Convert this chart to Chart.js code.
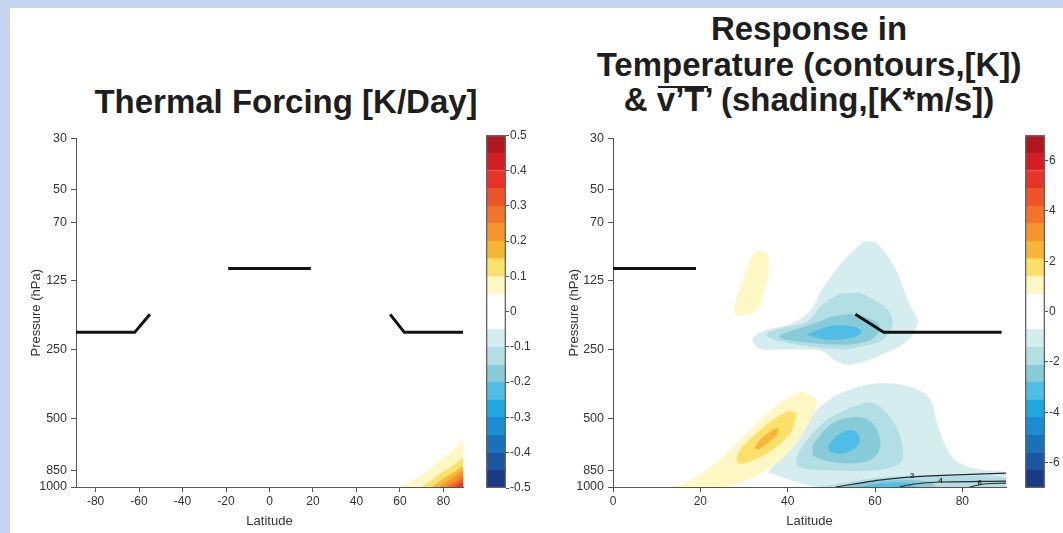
<!DOCTYPE html>
<html>
<head>
<meta charset="utf-8">
<script src="https://cdn.jsdelivr.net/npm/chart.js"></script>
<style>
  html, body { margin: 0; padding: 0; }
  body { width: 1063px; height: 533px; background: #c5d5ef; position: relative; overflow: hidden;
         font-family: "Liberation Sans", Arial, sans-serif; }
  #sheet { position: absolute; left: 10px; top: 8px; right: 0; bottom: 0; background: #fff; }
  .ttl { position: absolute; font-weight: bold; font-size: 33px; line-height: 35.5px; color: #1e1e1e;
         text-align: center; white-space: nowrap; }
  .bar { position: relative; }
  .bar::before { content: ""; position: absolute; left: 1px; right: 4px; top: 5px; border-top: 2px solid #1e1e1e; }
  canvas { position: absolute; }
</style>
</head>
<body>
<div id="sheet"></div>
<div class="ttl" style="left:86px; width:400px; top:84px;">Thermal Forcing [K/Day]</div>
<div class="ttl" style="left:559px; width:500px; top:11px;">Response in<br>Temperature (contours,[K])<br>&amp; <span class="bar">v’T’</span> (shading,[K*m/s])</div>
<canvas id="forcing" width="460" height="406" style="left:20px; top:127px;"></canvas>
<canvas id="forcingBar" width="60" height="370" style="left:480px; top:127px;"></canvas>
<canvas id="response" width="470" height="406" style="left:555px; top:127px;"></canvas>
<canvas id="responseBar" width="44" height="370" style="left:1019px; top:127px;"></canvas>
<script>
// colour bands, bottom (most negative) to top (most positive)
const bandColors = [
  "#1b3a84", "#1c56a1", "#1b70ba", "#1a8dd0", "#1fa8e0",
  "#50bde6", "#88cbd8", "#b3dee3", "#d6edf0", "#ffffff",
  "#ffffff", "#fff7c4", "#fde06a", "#f9b535", "#f6952b",
  "#f2742a", "#ee542a", "#e8332a", "#d21d25", "#b0161f"
];

const pressureTicks = [30, 50, 70, 125, 250, 500, 850, 1000];
const forcingLatTicks = [-80, -60, -40, -20, 0, 20, 40, 60, 80];
const responseLatTicks = [0, 20, 40, 60, 80];
const forcingBarTicks = [-0.5, -0.4, -0.3, -0.2, -0.1, 0, 0.1, 0.2, 0.3, 0.4, 0.5];
const responseBarTicks = [-6, -4, -2, 0, 2, 4, 6];
const forcingStep = 0.05;
const responseStep = 0.7;

// thermal forcing, [lat, hPa] outlines of each filled level
const forcing005 = [[60, 1000], [65, 950], [70, 885], [75, 815], [80, 745], [85, 680], [89, 630], [89, 1000]];
const forcing010 = [[70, 1000], [75, 930], [80, 860], [85, 800], [89, 755], [89, 1000]];
const forcing015 = [[75, 1000], [80, 925], [85, 865], [89, 825], [89, 1000]];
const forcing020 = [[78.5, 1000], [83, 935], [89, 860], [89, 1000]];
const forcing025 = [[81.5, 1000], [86, 940], [89, 900], [89, 1000]];
const forcing030 = [[84, 1000], [87, 955], [89, 930], [89, 1000]];
const forcing035 = [[86, 1000], [88, 975], [89, 960], [89, 1000]];

// v'T' response, upper level
const upperWarm07 = [[32.9, 93], [35.2, 96], [35.5, 115], [34.5, 141], [32.9, 168], [30.2, 177], [27.9, 173], [28.4, 148], [30.2, 118], [31.8, 98]];
const upperCool07 = [[57.2, 85], [60.3, 86], [64.5, 110], [67.9, 160], [69.7, 190], [67.2, 231], [61.7, 263], [54.9, 291], [51.2, 282], [48.0, 255], [40.5, 250], [33.6, 248], [32.0, 227], [34.3, 209], [40.5, 195], [45.1, 171], [48.0, 136], [52.6, 104], [55.8, 90]];
const upperCool14 = [[56.5, 141], [62.6, 166], [64.0, 195], [61.7, 227], [56.5, 243], [51.9, 250], [38.2, 231], [35.2, 216], [38.2, 203], [44.4, 190], [48.0, 160], [51.9, 143]];
const upperCool21 = [[54.2, 175], [60.3, 190], [60.9, 209], [58.1, 231], [51.2, 238], [39.8, 227], [38.2, 220], [40.5, 209], [47.3, 190], [50.3, 180]];
const upperCool28 = [[44.4, 216], [49.6, 199], [54.9, 199], [56.9, 209], [54.9, 222], [49.6, 227], [45.7, 220]];

// v'T' response, lower level
const lowerWarm07 = [[42.8, 381], [46.6, 420], [42.8, 608], [38.2, 764], [32.0, 905], [27.5, 980], [26, 1000], [13.8, 1000], [15.4, 980], [21.5, 844], [27.5, 672], [33.6, 513], [38.9, 420]];
const lowerWarm14 = [[42.1, 474], [40.5, 584], [35.2, 713], [29.8, 787], [28.4, 780], [29.1, 692], [33.6, 567], [38.2, 488], [40.5, 464]];
const lowerWarm21 = [[32.5, 678], [33.6, 626], [36.4, 567], [37.7, 556], [37.5, 590], [35.5, 639], [33.2, 685]];
const lowerCool07 = [[35.5, 861], [38.9, 727], [43.4, 550], [47.3, 451], [51.9, 392], [59.4, 355], [67.2, 362], [72.4, 408], [74.0, 513], [76.3, 672], [79.3, 787], [85.0, 844], [90, 870], [90, 1000], [47.3, 1000], [40.5, 933]];
const lowerCool14 = [[54.2, 451], [59.4, 429], [64.0, 513], [66.3, 672], [65.6, 787], [59.4, 844], [50.3, 844], [42.8, 820], [42.1, 742], [45.7, 584], [49.6, 498]];
const lowerCool21 = [[45.7, 658], [49.6, 539], [54.2, 498], [58.7, 513], [60.9, 596], [60.9, 692], [58.7, 764], [54.2, 787], [48.5, 764], [45.7, 727]];
const lowerCool28 = [[49.2, 658], [51.4, 596], [54.2, 567], [56.0, 584], [56.5, 639], [54.6, 692], [51.9, 713], [49.6, 699]];
const surfaceCool14 = [[47.3, 1000], [54.2, 951], [60.9, 914], [67.9, 896], [77.0, 896], [90, 914], [90, 1000]];
const surfaceCool21 = [[51.9, 1000], [58.7, 951], [65.6, 933], [72.4, 951], [74, 1000]];
const surfaceCool28 = [[56.5, 1000], [60.9, 970], [67.2, 961], [69.0, 1000]];

// temperature response contours near the surface
const tempContour2 = [[51, 1000], [56.5, 961], [61, 933], [67.9, 905], [77, 887], [90, 870]];
const tempContour4 = [[65.6, 1000], [69, 970], [74.8, 951], [90, 942]];
const tempContour6 = [[81.6, 1000], [85, 970], [90, 961]];
const tempLabels = ["2", "4", "6"];
const tempLabelAt = [[68.5, 903], [75, 950], [84, 972]];

// thick black reference lines
const forcingMarks = [
  [[-89, 211], [-62, 211], [-55, 176]],
  [[-19, 111], [19, 111]],
  [[55.5, 176], [62, 211], [89, 211]]
];
const responseMarks = [
  [[0, 111], [19, 111]],
  [[55.5, 176], [62, 211], [89, 211]]
];

const forcingLayers = [
  [0.05, forcing005], [0.1, forcing010], [0.15, forcing015], [0.2, forcing020],
  [0.25, forcing025], [0.3, forcing030], [0.35, forcing035]
];
const responseLayers = [
  [0.7, upperWarm07], [-0.7, upperCool07], [-1.4, upperCool14], [-2.1, upperCool21], [-2.8, upperCool28],
  [0.7, lowerWarm07], [1.4, lowerWarm14], [2.1, lowerWarm21],
  [-0.7, lowerCool07], [-1.4, lowerCool14], [-2.1, lowerCool21], [-2.8, lowerCool28],
  [-1.4, surfaceCool14], [-2.1, surfaceCool21], [-2.8, surfaceCool28]
];

const FONT = '"Liberation Sans", Arial, sans-serif';
const INK = "#333";
const AXIS = "#555";

function bandColor(level, step) {
  var k = Math.round(level / step);
  return bandColors[k > 0 ? 10 + k : 9 + k];
}

function pts(list) {
  return list.map(function (p) { return { x: p[0], y: p[1] }; });
}

function shadeSets(layers, step) {
  return layers.map(function (ly) {
    var c = bandColor(ly[0], step);
    return {
      data: pts(ly[1]),
      fill: "shape",
      tension: 0.35,
      backgroundColor: c,
      borderColor: c,
      borderWidth: 0.5,
      pointRadius: 0,
      order: 100 - Math.round(Math.abs(ly[0] / step))
    };
  });
}

function lineSets(lines, width, color, tension) {
  return lines.map(function (l) {
    return {
      data: pts(l),
      fill: false,
      tension: tension,
      borderColor: color,
      borderWidth: width,
      pointRadius: 0,
      order: 0
    };
  });
}

const contourLabelPlugin = {
  id: "contourLabels",
  afterDatasetsDraw: function (chart, args, opts) {
    if (!opts.text || !opts.text.length) return;
    var ctx = chart.ctx;
    ctx.save();
    ctx.font = "bold 8px " + FONT;
    ctx.fillStyle = "#333";
    ctx.textAlign = "center";
    ctx.textBaseline = "middle";
    opts.text.forEach(function (t, i) {
      var x = chart.scales.x.getPixelForValue(opts.at[i][0]);
      var y = chart.scales.y.getPixelForValue(opts.at[i][1]);
      ctx.fillText(t, x, y - 1);
    });
    ctx.restore();
  }
};

function panel(id, xMin, xMax, xTicks, datasets, axisWidth, titlePad, rightPad, labels) {
  return new Chart(document.getElementById(id), {
    type: "line",
    data: { datasets: datasets },
    plugins: [contourLabelPlugin],
    options: {
      responsive: false,
      animation: false,
      layout: { padding: { left: 0, right: rightPad, top: 8, bottom: 0 } },
      plugins: {
        legend: { display: false },
        tooltip: { enabled: false },
        contourLabels: labels || {}
      },
      scales: {
        x: {
          type: "linear",
          min: xMin,
          max: xMax,
          afterBuildTicks: function (s) { s.ticks = xTicks.map(function (v) { return { value: v }; }); },
          afterFit: function (s) { s.height = 46; },
          grid: { display: true, drawOnChartArea: false, drawTicks: true, tickLength: 5, color: AXIS },
          border: { display: true, color: AXIS, width: 1 },
          ticks: { color: INK, font: { size: 12, family: FONT }, padding: 2, maxRotation: 0, autoSkip: false },
          title: { display: true, text: "Latitude", color: INK, font: { size: 13, family: FONT }, padding: { top: 0, bottom: 4 } }
        },
        y: {
          type: "logarithmic",
          reverse: true,
          min: 30,
          max: 1000,
          afterBuildTicks: function (s) { s.ticks = pressureTicks.map(function (v) { return { value: v }; }); },
          afterFit: function (s) { s.width = axisWidth; },
          grid: { display: true, drawOnChartArea: false, drawTicks: true, tickLength: 5, color: AXIS },
          border: { display: true, color: AXIS, width: 1 },
          ticks: { color: INK, font: { size: 12.5, family: FONT }, padding: 4, autoSkip: false,
                   callback: function (v) { return String(v); } },
          title: { display: true, text: "Pressure (hPa)", color: INK, font: { size: 13, family: FONT }, padding: { top: titlePad, bottom: 0 } }
        }
      }
    }
  });
}

function colorbar(id, lim, step, ticks, axisWidth) {
  var sets = bandColors.map(function (c, i) {
    var lo = -lim + i * step;
    return {
      data: [[lo, lo + step]],
      backgroundColor: c,
      borderColor: c,
      borderWidth: 1,
      borderSkipped: false,
      grouped: false,
      barPercentage: 1,
      categoryPercentage: 1,
      order: 5
    };
  });
  sets.push({
    data: [[-lim, lim]],
    backgroundColor: "rgba(0,0,0,0)",
    borderColor: "#666",
    borderWidth: 1,
    borderSkipped: false,
    grouped: false,
    barPercentage: 1,
    categoryPercentage: 1,
    order: 0
  });
  return new Chart(document.getElementById(id), {
    type: "bar",
    data: { labels: [""], datasets: sets },
    options: {
      responsive: false,
      animation: false,
      layout: { padding: { left: 6, top: 8, bottom: 9, right: 0 } },
      plugins: { legend: { display: false }, tooltip: { enabled: false } },
      scales: {
        x: { display: false },
        y: {
          position: "right",
          min: -lim,
          max: lim,
          afterBuildTicks: function (s) { s.ticks = ticks.map(function (v) { return { value: v }; }); },
          afterFit: function (s) { s.width = axisWidth; },
          grid: { display: true, drawOnChartArea: false, drawTicks: true, tickLength: 3, color: AXIS },
          border: { display: false },
          ticks: { color: INK, font: { size: 12, family: FONT }, padding: 1, autoSkip: false,
                   callback: function (v) { return String(Number(v.toFixed(2))); } }
        }
      }
    }
  });
}

panel("forcing", -89, 89, forcingLatTicks,
  shadeSets(forcingLayers, forcingStep).concat(lineSets(forcingMarks, 3, "#111", 0)),
  56, 9, 17);

panel("response", 0, 90, responseLatTicks,
  shadeSets(responseLayers, responseStep)
    .concat(lineSets([tempContour2, tempContour4, tempContour6], 1.2, "#2a2a2a", 0.3))
    .concat(lineSets(responseMarks, 3, "#111", 0)),
  58, 12, 19, { text: tempLabels, at: tempLabelAt });

colorbar("forcingBar", 0.5, forcingStep, forcingBarTicks, 34);
colorbar("responseBar", 7, responseStep, responseBarTicks, 18);
</script>
</body>
</html>
